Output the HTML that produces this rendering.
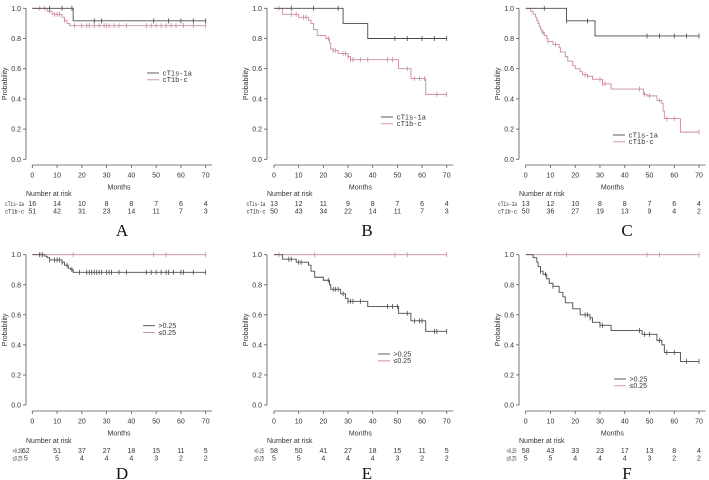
<!DOCTYPE html>
<html><head><meta charset="utf-8"><style>
html,body{margin:0;padding:0;background:#fff;}
svg{display:block;font-family:"Liberation Sans",sans-serif;}
</style></head><body>
<svg id="chart" width="709" height="480" viewBox="0 0 709 480" xmlns="http://www.w3.org/2000/svg"></svg>
<script>
const xTicks = [0,10,20,30,40,50,60,70];
const yTicks = [0,0.2,0.4,0.6,0.8,1.0];
const yTickLabels = ["0.0","0.2","0.4","0.6","0.8","1.0"];
// step events: [time, survival]
const aDarkSteps = [[16.5,0.917]];
const aDarkCens = [7,12,16,25,28,49,55,60,65,70];
const aPinkSteps = [[6,0.98],[8,0.96],[12,0.94],[13,0.92],[14,0.90],[15,0.885]];
const aPinkCens = [3,5,7,9,10,11,13,17,20,22,23,25,27,29,30,31,33,35,38,46,48,50,52,54,56,58,61,65,70];
const bDarkSteps = [[28,0.9],[38,0.8]];
const bDarkCens = [7,16,26,49,54,60,65,70];
const bPinkSteps = [[3.5,0.96],[10,0.94],[14,0.92],[15,0.90],[16,0.86],[17.5,0.82],[21,0.80],[22.5,0.77],[23,0.73],[24,0.72],[26,0.70],[30,0.68],[31,0.66],[50.5,0.60],[55.5,0.535],[61.5,0.43]];
const bPinkCens = [2,7,9,12,13,22,24,25,28,29,30,31,32,35,38,46,48,54,57,59,61,66,70];
const cDarkSteps = [[16.5,0.917],[28,0.817]];
const cDarkCens = [7.5,16.5,25,49,54,60,65,70];
const cPinkSteps = [[2,0.98],[3,0.96],[4,0.94],[4.5,0.92],[5,0.90],[5.5,0.88],[6,0.86],[6.5,0.84],[7.5,0.82],[8.5,0.80],[9,0.78],[11,0.76],[13.5,0.74],[14,0.71],[16,0.68],[17,0.65],[19,0.62],[20,0.60],[22,0.58],[23,0.56],[25,0.55],[27,0.53],[31,0.50],[34.5,0.465],[47.5,0.43],[49,0.42],[53,0.39],[55,0.37],[55.5,0.32],[56,0.27],[62.5,0.18]];
const cPinkCens = [7,9,12,24,25,30,31,32,46,48,50,54,57,60,70];
const dDarkSteps = [[5,0.99],[6,0.98],[7,0.965],[12,0.95],[13,0.93],[14.5,0.91],[15.5,0.90],[16.5,0.883]];
const dDarkCens = [3,4,7,9,10,11,12,14,16,19,22,23,24,25,26,27,28,30,31,32,35,38,46,48,50,52,54,55,57,60,61,65,70];
const dPinkSteps = [];
const dPinkCens = [3,4,16.5,49,54,70];
const eDarkSteps = [[3.5,0.97],[9,0.95],[14,0.93],[15,0.89],[16.5,0.85],[20,0.83],[22.5,0.80],[23,0.77],[27,0.74],[29,0.71],[30,0.69],[38,0.655],[50.5,0.61],[55.5,0.56],[61.5,0.49]];
const eDarkCens = [6,7,10,11,22,24,25,26,28,30,31,32,35,46,48,50,54,57,59,60,65,66,70];
const ePinkSteps = [];
const ePinkCens = [2,16.5,49,54,70];
const fDarkSteps = [[3,0.98],[4.5,0.95],[5,0.92],[6,0.89],[7,0.87],[8.5,0.84],[9.5,0.81],[11,0.79],[13.5,0.75],[15,0.72],[16,0.68],[19,0.64],[22,0.60],[26,0.58],[27,0.55],[30,0.53],[34.5,0.495],[47,0.47],[53,0.43],[55,0.40],[56,0.35],[62.5,0.29]];
const fDarkCens = [6,8,11,24,25,26,30,31,46,48,50,54,57,60,65,70];
const fPinkSteps = [];
const fPinkCens = [16.5,49,54,70];
const riskTop1A = [16,14,10,8,8,7,6,4];
const riskTop2A = [51,42,31,23,14,11,7,3];
const riskTop1B = [13,12,11,9,8,7,6,4];
const riskTop2B = [50,43,34,22,14,11,7,3];
const riskTop1C = [13,12,10,8,8,7,6,4];
const riskTop2C = [50,36,27,19,13,9,4,2];
const riskBot1D = [62,51,37,27,18,15,11,5];
const riskBot2D = [5,5,4,4,4,3,2,2];
const riskBot1E = [58,50,41,27,18,15,11,5];
const riskBot2E = [5,5,4,4,4,3,2,2];
const riskBot1F = [58,43,33,23,17,13,8,4];
const riskBot2F = [5,5,4,4,4,3,2,2];

const NS="http://www.w3.org/2000/svg";
const svg=document.getElementById('chart');
const DARK="#4a4a4a", PINK="#c98d99", TXT="#333";
function mk(tag,attrs,parent){const e=document.createElementNS(NS,tag);for(const k in attrs)e.setAttribute(k,attrs[k]);(parent||svg).appendChild(e);return e;}

function panel(p){
  const g=mk('g',{});
  
  
  const sx=t=>p.x0+(p.x70-p.x0)*t/70;
  const sy=v=>p.y0+(p.y1-p.y0)*v;
  const ya=mk('line',{x1:p.ax,y1:sy(1),x2:p.ax,y2:sy(0),stroke:"#555","stroke-width":0.8},g);
  
  
  yTicks.forEach((v,i)=>{
    mk('line',{x1:p.ax-3,y1:sy(v),x2:p.ax,y2:sy(v),stroke:"#555","stroke-width":0.8},g);
    const t=mk('text',{x:p.ax-5,y:sy(v)+2.5,"text-anchor":"end","font-size":7,fill:TXT},g);
    
    
    t.textContent=yTickLabels[i];
  });
  const yl=mk('text',{x:0,y:0,"text-anchor":"middle","font-size":7,fill:TXT,transform:`translate(${p.ax-19},${sy(0.5)}) rotate(-90)`},g);
  
  
  yl.textContent="Probability";
  const xa=mk('line',{x1:sx(0),y1:p.axy,x2:sx(70)+6.5,y2:p.axy,stroke:"#555","stroke-width":0.8},g);
  
  
  xTicks.forEach(v=>{
    mk('line',{x1:sx(v),y1:p.axy,x2:sx(v),y2:p.axy+3,stroke:"#555","stroke-width":0.8},g);
    const t=mk('text',{x:sx(v),y:p.axy+12.5,"text-anchor":"middle","font-size":7,fill:TXT},g);
    
    
    t.textContent=v;
  });
  const xl=mk('text',{x:(sx(0)+sx(70))/2,y:p.axy+24.5,"text-anchor":"middle","font-size":7,fill:TXT},g);
  
  
  xl.textContent="Months";
  function curve(steps,cens,color,name){
    let d=`M${sx(0)},${sy(1)}`;
    steps.forEach(s=>{d+=`H${sx(s[0])}V${sy(s[1])}`;});
    d+=`H${sx(70)}`;
    const pa=mk('path',{d:d,fill:"none",stroke:color,"stroke-width":0.9},g);
    
    
    cens.forEach(c=>{
      let v=1;steps.forEach(s=>{if(s[0]<=c)v=s[1];});
      const m=mk('line',{x1:sx(c),y1:sy(v)-2.5,x2:sx(c),y2:sy(v)+2.5,stroke:color,"stroke-width":0.8},g);
      
      
    });
  }
  curve(p.pinkSteps,p.pinkCens,PINK,'pink-series');
  curve(p.darkSteps,p.darkCens,DARK,'dark-series');
  const mono=p.mono?'"Liberation Mono",monospace':'"Liberation Sans",sans-serif';
  [[DARK,p.names[0]],[PINK,p.names[1]]].forEach((it,i)=>{
    const y=p.leg[1]+i*6.8;
    mk('line',{x1:p.leg[0],y1:y,x2:p.leg[0]+12,y2:y,stroke:it[0],"stroke-width":0.9},g);
    const t=mk('text',{x:p.leg[0]+15.5,y:y+2.3,"font-size":7,fill:TXT,"font-family":mono},g);
    
    
    t.textContent=it[1];
  });
  const nr=mk('text',{x:p.ax,y:p.ry-7,"font-size":7,fill:TXT},g);
  
  
  nr.textContent="Number at risk";
  [p.r1,p.r2].forEach((row,i)=>{
    const y=p.ry+3+i*7.5;
    const l=mk('text',{x:p.rl,y:y,"font-size":6.5,fill:TXT,"font-family":mono,textLength:p.lw,lengthAdjust:"spacingAndGlyphs"},g);
    
    
    l.textContent=p.names[i];
    row.forEach((n,j)=>{
      const xx=sx(xTicks[j])+(j===0?p.firstOff:0);
      const t=mk('text',{x:xx,y:y,"text-anchor":"middle","font-size":7,fill:TXT},g);
      
      
      t.textContent=n;
    });
  });
  const L=mk('text',{x:p.lx,y:p.ly+6,"text-anchor":"middle","font-size":17,fill:"#111","font-family":'"Liberation Serif",serif'},g);
  
  
  L.textContent=p.letter;
}
const topR={y1:8.3,y0:159.3,axy:165,ry:203,lw:19,firstOff:0};
const botR={y1:254.7,y0:405,axy:411,ry:450,lw:10};
const cols=[{x0:32.3,x70:205.7,ax:26,lx:122},{x0:274,x70:446.7,ax:267,lx:367},{x0:525.7,x70:699,ax:519,lx:627}];
const n1=["cTis-1a","cT1b-c"], n2=[">0.25","\u22640.25"];
panel(Object.assign({},topR,cols[0],{letter:"A",ly:230,mono:true,names:n1,darkSteps:aDarkSteps,darkCens:aDarkCens,pinkSteps:aPinkSteps,pinkCens:aPinkCens,leg:[147,73],r1:riskTop1A,r2:riskTop2A,rl:5}));
panel(Object.assign({},topR,cols[1],{letter:"B",ly:230,mono:true,names:n1,darkSteps:bDarkSteps,darkCens:bDarkCens,pinkSteps:bPinkSteps,pinkCens:bPinkCens,leg:[381,117],r1:riskTop1B,r2:riskTop2B,rl:246.5}));
panel(Object.assign({},topR,cols[2],{letter:"C",ly:230,mono:true,names:n1,darkSteps:cDarkSteps,darkCens:cDarkCens,pinkSteps:cPinkSteps,pinkCens:cPinkCens,leg:[613,135],r1:riskTop1C,r2:riskTop2C,rl:498}));
panel(Object.assign({},botR,cols[0],{letter:"D",ly:473,mono:false,names:n2,darkSteps:dDarkSteps,darkCens:dDarkCens,pinkSteps:dPinkSteps,pinkCens:dPinkCens,leg:[143,325.7],r1:riskBot1D,r2:riskBot2D,rl:12.5,firstOff:-6.5}));
panel(Object.assign({},botR,cols[1],{letter:"E",ly:473,mono:false,names:n2,darkSteps:eDarkSteps,darkCens:eDarkCens,pinkSteps:ePinkSteps,pinkCens:ePinkCens,leg:[378,354],r1:riskBot1E,r2:riskBot2E,rl:254,firstOff:0}));
panel(Object.assign({},botR,cols[2],{letter:"F",ly:473,mono:false,names:n2,darkSteps:fDarkSteps,darkCens:fDarkCens,pinkSteps:fPinkSteps,pinkCens:fPinkCens,leg:[614,379],r1:riskBot1F,r2:riskBot2F,rl:506.5,firstOff:0}));
</script>
</body></html>
